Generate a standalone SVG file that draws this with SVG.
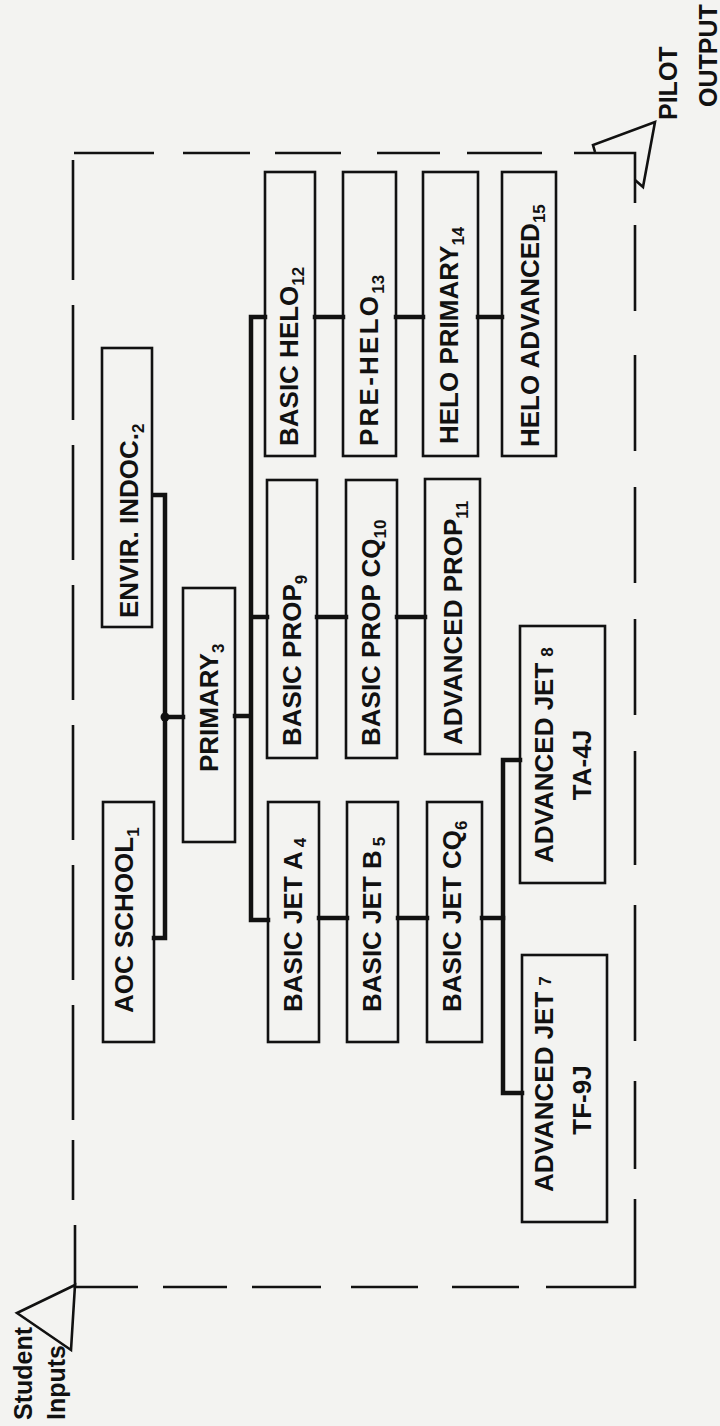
<svg xmlns="http://www.w3.org/2000/svg" width="720" height="1426" viewBox="0 0 720 1426">
<style>
.box{fill:none;stroke:#111;stroke-width:2.6}
.con{fill:none;stroke:#111;stroke-width:4.5;stroke-linecap:square}
.bd{fill:none;stroke:#111;stroke-width:2.6}
.tri{fill:none;stroke:#111;stroke-width:2.6;stroke-linejoin:miter}
text{font-family:"Liberation Sans",Arial,Helvetica,sans-serif;font-weight:bold;fill:#111}
.lb{font-size:26px}
.sub{font-size:17px}
.io{font-size:25px}
</style>
<rect width="720" height="1426" fill="#f3f3f1"/>
<g id="border">
<path class="bd" d="M74,153H154M183,153H250M275,153H341M377,153H440M467,153H542M574,153H635V203M635,225V311M635,355V451M635,487V583M635,619V715M635,751V865M635,905V1041M635,1081V1169M635,1199V1287H546M519,1287H452M418,1287H351M321,1287H252M227,1287H163M138,1287H75V1225M73,1200V1140M73,1120V1005M73,980V865M73,840V725M73,700V585M73,560V445M73,420V305M73,280V160"/>
</g>
<g id="student-inputs">
<polygon class="tri" points="75,1285 17,1313 71,1350"/>
<text class="io" transform="translate(32,1420) rotate(-90)">Student</text>
<text class="io" transform="translate(65,1420) rotate(-90)">Inputs</text>
</g>
<g id="pilot-output">
<polyline class="tri" points="595,152 593,145 655,122 643,187 635,180"/>
<text class="io" transform="translate(677,120) rotate(-90)">PILOT</text>
<text class="io" transform="translate(717,107) rotate(-90)">OUTPUT</text>
</g>
<g id="connectors">
<path class="con" d="M154,495H165V938H154M165,717H183"/>
<circle cx="165" cy="717" r="4.5" fill="#111"/>
<path class="con" d="M235,716H251M265,317H251V920H268M251,617H267"/>
<path class="con" d="M315,317H343M396,317H423M478,317H502"/>
<path class="con" d="M317,617H346M397,617H425"/>
<path class="con" d="M319,918H347M398,918H427M482,918H503"/>
<path class="con" d="M520,760H503V1093H522"/>
</g>
<g id="n1"><rect class="box" x="103" y="802" width="51" height="240"/>
<text class="lb" transform="translate(133,1013) rotate(-90)">AOC SCHOOL<tspan class="sub" dy="6">1</tspan></text></g>
<g id="n2"><rect class="box" x="102" y="348" width="50" height="279"/>
<text class="lb" transform="translate(138,618) rotate(-90)">ENVIR. INDOC.<tspan class="sub" dy="6">2</tspan></text></g>
<g id="n3"><rect class="box" x="183" y="588" width="52" height="254"/>
<text class="lb" transform="translate(218,772) rotate(-90)">PRIMARY<tspan class="sub" dy="6">3</tspan></text></g>
<g id="n4"><rect class="box" x="268" y="802" width="51" height="240"/>
<text class="lb" transform="translate(302,1012) rotate(-90)">BASIC JET A<tspan class="sub" dx="4" dy="4">4</tspan></text></g>
<g id="n5"><rect class="box" x="347" y="802" width="51" height="240"/>
<text class="lb" transform="translate(381,1012) rotate(-90)">BASIC JET B<tspan class="sub" dx="4" dy="4">5</tspan></text></g>
<g id="n6"><rect class="box" x="427" y="802" width="55" height="240"/>
<text class="lb" transform="translate(461,1012) rotate(-90)">BASIC JET CQ<tspan class="sub" dy="6">6</tspan></text></g>
<g id="n7"><rect class="box" x="522" y="955" width="85" height="267"/>
<text class="lb" transform="translate(553,1192) rotate(-90)">ADVANCED JET<tspan class="sub" dx="6" dy="-2">7</tspan></text>
<text class="lb" text-anchor="middle" transform="translate(591,1100) rotate(-90)">TF-9J</text></g>
<g id="n8"><rect class="box" x="520" y="626" width="85" height="257"/>
<text class="lb" transform="translate(553,863) rotate(-90)">ADVANCED JET<tspan class="sub" dx="6" dy="0">8</tspan></text>
<text class="lb" text-anchor="middle" transform="translate(591,765) rotate(-90)">TA-4J</text></g>
<g id="n9"><rect class="box" x="267" y="480" width="50" height="278"/>
<text class="lb" transform="translate(301,746) rotate(-90)">BASIC PROP<tspan class="sub" dy="6">9</tspan></text></g>
<g id="n10"><rect class="box" x="346" y="480" width="51" height="278"/>
<text class="lb" transform="translate(380,746) rotate(-90)">BASIC PROP CQ<tspan class="sub" dy="6">10</tspan></text></g>
<g id="n11"><rect class="box" x="425" y="479" width="55" height="275"/>
<text class="lb" transform="translate(462,745) rotate(-90)">ADVANCED PROP<tspan class="sub" dy="6">11</tspan></text></g>
<g id="n12"><rect class="box" x="265" y="172" width="50" height="284"/>
<text class="lb" transform="translate(298,446) rotate(-90)">BASIC HELO<tspan class="sub" dy="6">12</tspan></text></g>
<g id="n13"><rect class="box" x="343" y="172" width="53" height="284"/>
<text class="lb" transform="translate(378,446) rotate(-90)"><tspan textLength="150" lengthAdjust="spacing">PRE-HELO</tspan><tspan class="sub" dy="6">13</tspan></text></g>
<g id="n14"><rect class="box" x="423" y="172" width="55" height="284"/>
<text class="lb" transform="translate(458,444) rotate(-90)">HELO PRIMARY<tspan class="sub" dy="6">14</tspan></text></g>
<g id="n15"><rect class="box" x="502" y="172" width="54" height="284"/>
<text class="lb" transform="translate(539,447) rotate(-90)">HELO ADVANCED<tspan class="sub" dy="6">15</tspan></text></g>
</svg>
